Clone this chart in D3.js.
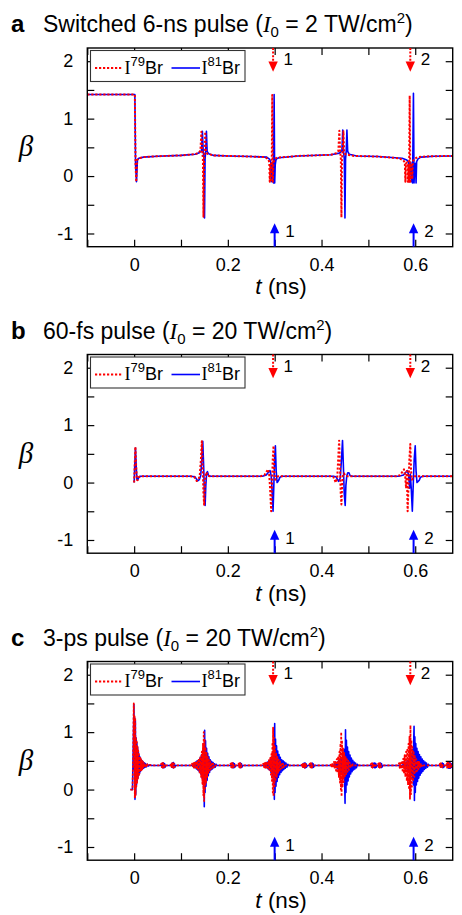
<!DOCTYPE html>
<html><head><meta charset="utf-8">
<script src="https://cdn.jsdelivr.net/npm/d3@7"></script>
<style>html,body{margin:0;background:#fff}svg{display:block}</style>
</head><body><svg id="fig" width="462" height="915"></svg>
<script>
// ---------- data ----------
const panelLetters = ["a", "b", "c"];
const pulseNames = ["Switched 6-ns pulse", "60-fs pulse", "3-ps pulse"];
const intensities = [2, 20, 20];
const isotopes = ["79", "81"];
const tTicks = [-0.1, 0, 0.1, 0.2, 0.3, 0.4, 0.5, 0.6];
const tLabels = [0, 0.2, 0.4, 0.6];
const betaTicks = [-1, -0.5, 0, 0.5, 1, 1.5, 2];
const betaLabels = [-1, 0, 1, 2];
const revival79 = [0.2966, 0.5895];
const revival81 = [0.2999, 0.5965];
const revivalNumbers = ["1", "2"];

// (a) switched 6-ns pulse, β(t) for I79Br and I81Br
const a79 = [[-0.1,1.42],[0,1.42],[0.0015,1.42],[0.003,0.2],[0.0045,-0.1],[0.0065,0.28],[0.01,0.31],[0.02,0.33],[0.05,0.345],[0.1,0.36],[0.13,0.38],[0.136,0.40],
[0.1415,0.44],[0.1435,0.77],[0.1452,0.43],[0.1468,0.30],[0.148,-0.71],[0.1492,0.30],[0.1505,0.44],[0.1518,0.77],[0.1533,0.43],[0.156,0.39],[0.17,0.36],[0.2,0.35],[0.25,0.34],
[0.28,0.33],[0.2865,0.29],[0.2885,0.24],[0.2895,-0.1],[0.2905,0.2],[0.2925,0.22],[0.2935,-0.1],[0.2948,1.41],[0.296,-0.1],[0.2972,0.2],[0.2985,0.26],[0.3,0.30],[0.305,0.32],
[0.35,0.35],[0.42,0.37],[0.432,0.40],[0.436,0.44],[0.438,0.79],[0.4397,0.43],[0.4412,0.30],[0.4425,-0.72],[0.4438,0.30],[0.4452,0.44],[0.4468,0.78],[0.4483,0.43],[0.451,0.38],[0.47,0.35],
[0.52,0.34],[0.565,0.31],[0.574,0.28],[0.5778,0.24],[0.579,-0.1],[0.5802,0.22],[0.583,0.24],[0.5842,-0.1],[0.5855,0.2],[0.5868,-0.1],[0.5882,1.40],[0.5895,-0.1],[0.5908,0.18],[0.5925,0.22],[0.5938,-0.05],[0.595,0.25],[0.598,0.30],[0.605,0.33],[0.63,0.345],[0.68,0.35]];
const a81 = [[-0.1,1.42],[0,1.42],[0.0015,1.42],[0.003,0.2],[0.005,-0.1],[0.007,0.28],[0.01,0.31],[0.02,0.33],[0.05,0.345],[0.1,0.36],[0.13,0.38],[0.138,0.40],
[0.1438,0.44],[0.1457,0.78],[0.1474,0.43],[0.149,0.30],[0.1502,-0.73],[0.1514,0.30],[0.1528,0.44],[0.1543,0.78],[0.1558,0.43],[0.159,0.39],[0.17,0.36],[0.2,0.35],[0.25,0.34],
[0.283,0.33],[0.2895,0.29],[0.2915,0.24],[0.2928,-0.1],[0.294,0.22],[0.2962,0.24],[0.2975,-0.12],[0.2988,1.42],[0.3,-0.12],[0.3012,0.2],[0.3025,0.27],[0.304,0.30],[0.309,0.32],
[0.35,0.35],[0.42,0.37],[0.438,0.40],[0.4435,0.44],[0.4453,0.80],[0.447,0.43],[0.4486,0.30],[0.45,-0.73],[0.4513,0.30],[0.4527,0.44],[0.4542,0.80],[0.4558,0.43],[0.459,0.38],[0.475,0.35],
[0.52,0.34],[0.572,0.31],[0.582,0.28],[0.5858,0.24],[0.587,-0.1],[0.5882,0.22],[0.5905,0.24],[0.5918,-0.1],[0.593,0.2],[0.5943,-0.12],[0.5962,1.44],[0.5975,-0.12],[0.5988,0.18],[0.6005,0.22],[0.6018,-0.12],[0.603,0.25],[0.606,0.30],[0.612,0.33],[0.64,0.345],[0.68,0.35]];

// (b) 60-fs pulse
const b79 = [[0,0],[0.0012,0.3],[0.0027,0.62],[0.0042,0.3],[0.0058,0.05],[0.0075,0.04],[0.0095,0.09],[0.013,0.11],[0.06,0.11],[0.12,0.11],[0.128,0.1],[0.1335,0.03],[0.137,0.05],[0.14,0.12],
[0.1425,0.4],[0.1445,0.72],[0.1465,0.25],[0.148,-0.2],[0.1495,-0.4],[0.151,-0.05],[0.1528,0.16],[0.1545,0.18],[0.157,0.12],[0.162,0.11],[0.27,0.11],[0.278,0.13],[0.2835,0.2],[0.286,0.23],
[0.2885,0.12],[0.2905,-0.15],[0.2925,-0.5],[0.294,-0.1],[0.2958,0.4],[0.2975,0.64],[0.2992,0.2],[0.3012,0.05],[0.3035,0.08],[0.307,0.11],[0.42,0.11],[0.425,0.1],[0.4305,0.0],[0.4335,0.08],
[0.4355,0.4],[0.4375,0.73],[0.4395,0.25],[0.441,-0.2],[0.4425,-0.38],[0.444,-0.05],[0.4458,0.14],[0.4478,0.16],[0.451,0.12],[0.456,0.11],[0.56,0.11],[0.568,0.13],[0.5735,0.2],[0.576,0.23],
[0.5785,0.12],[0.5805,-0.1],[0.582,0.2],[0.5838,-0.5],[0.5855,-0.1],[0.5875,0.4],[0.5895,0.67],[0.5912,0.2],[0.593,0.05],[0.5955,0.08],[0.599,0.11],[0.68,0.11]];
const b81 = [[0,0],[0.0012,0.28],[0.0028,0.6],[0.0044,0.28],[0.006,0.05],[0.0078,0.05],[0.0098,0.09],[0.013,0.11],[0.06,0.11],[0.12,0.11],[0.13,0.1],[0.1355,0.03],[0.139,0.05],[0.142,0.12],
[0.1445,0.4],[0.1465,0.72],[0.1485,0.25],[0.15,-0.2],[0.1515,-0.40],[0.153,-0.05],[0.1548,0.17],[0.1565,0.19],[0.159,0.12],[0.164,0.11],[0.274,0.11],[0.282,0.13],[0.2875,0.19],[0.29,0.21],
[0.2925,0.12],[0.2945,-0.15],[0.2965,-0.5],[0.298,-0.1],[0.2998,0.4],[0.3015,0.64],[0.3032,0.2],[0.3052,0.0],[0.307,0.02],[0.3086,0.04],[0.311,0.09],[0.315,0.11],[0.425,0.11],[0.431,0.1],
[0.4365,0.02],[0.44,0.08],[0.4425,0.4],[0.4448,0.73],[0.4468,0.25],[0.4485,-0.2],[0.4505,-0.4],[0.452,-0.05],[0.454,0.12],[0.456,0.17],[0.4586,0.17],[0.461,0.12],[0.466,0.11],[0.565,0.11],
[0.575,0.13],[0.581,0.19],[0.5835,0.21],[0.586,0.12],[0.588,-0.1],[0.5895,0.15],[0.5915,-0.1],[0.5938,-0.5],[0.5955,-0.1],[0.5978,0.4],[0.6,0.64],[0.6018,0.2],[0.6038,0.0],[0.6062,0.02],
[0.6086,0.04],[0.611,0.09],[0.616,0.11],[0.68,0.11]];

// (c) 3-ps pulse
const c79 = [[-0.008,0],[-0.0035,0],[-0.002,0.7],[-0.0008,1.5],[0.0002,0.4],[0.0008,1.3],[0.0015,-0.15],[0.0022,1.25],[0.003,-0.1],[0.0038,0.92],[0.0046,0.05],[0.0054,0.86],[0.0062,0.12],
[0.007,0.76],[0.0078,0.18],[0.0086,0.68],[0.0094,0.23],[0.0102,0.62],[0.011,0.27],[0.0118,0.58],[0.0126,0.3],[0.0134,0.55],[0.0142,0.32],[0.015,0.52],[0.0158,0.34],[0.0166,0.5],[0.0174,0.36],
[0.0182,0.49],[0.019,0.37],[0.02,0.47],[0.021,0.38],[0.022,0.46],[0.023,0.39],[0.024,0.45],[0.026,0.4],[0.028,0.44],[0.03,0.41],[0.033,0.43],[0.036,0.42],
[0.056,0.42],[0.058,0.45],[0.059,0.39],[0.06,0.46],[0.061,0.38],[0.062,0.46],[0.063,0.38],[0.064,0.45],[0.065,0.39],[0.067,0.42],
[0.077,0.42],[0.079,0.45],[0.08,0.39],[0.081,0.46],[0.082,0.38],[0.083,0.47],[0.084,0.38],[0.085,0.45],[0.086,0.39],[0.088,0.42],[0.11,0.42],
[0.122,0.42],[0.1235,0.45],[0.125,0.39],[0.1265,0.46],[0.128,0.38],[0.1295,0.47],[0.131,0.37],[0.1325,0.49],[0.134,0.35],[0.1355,0.51],[0.137,0.32],[0.1385,0.54],[0.14,0.28],[0.1415,0.58],
[0.143,0.22],[0.1445,0.66],[0.1458,0.1],[0.147,0.8],[0.1478,-0.1],[0.1486,1.0],[0.1494,-0.2],[0.1503,0.88],[0.1512,0.02],[0.1522,0.74],[0.1533,0.12],[0.1545,0.64],[0.1558,0.22],[0.157,0.57],
[0.1583,0.29],[0.1596,0.52],[0.161,0.33],[0.1625,0.49],[0.164,0.36],[0.1655,0.47],[0.167,0.38],[0.1685,0.45],[0.17,0.39],[0.172,0.44],[0.174,0.42],[0.19,0.42],
[0.204,0.42],[0.206,0.45],[0.207,0.39],[0.208,0.46],[0.209,0.38],[0.21,0.46],[0.211,0.38],[0.212,0.45],[0.213,0.39],[0.215,0.42],
[0.221,0.42],[0.223,0.45],[0.224,0.39],[0.225,0.46],[0.226,0.38],[0.227,0.45],[0.228,0.39],[0.23,0.42],[0.26,0.42],
[0.274,0.42],[0.2755,0.45],[0.277,0.39],[0.2785,0.46],[0.28,0.38],[0.2815,0.47],[0.283,0.37],[0.2845,0.49],[0.286,0.35],[0.2875,0.51],[0.289,0.32],[0.2905,0.55],[0.292,0.26],[0.2932,0.62],
[0.2942,0.15],[0.2952,0.82],[0.296,-0.05],[0.2966,1.08],[0.2975,-0.12],[0.2985,0.9],[0.2995,0.06],[0.3005,0.74],[0.3017,0.14],[0.303,0.64],[0.3043,0.22],[0.3056,0.57],[0.307,0.29],
[0.3085,0.52],[0.31,0.33],[0.3115,0.49],[0.313,0.36],[0.3145,0.47],[0.316,0.38],[0.3175,0.45],[0.319,0.39],[0.321,0.44],[0.323,0.42],[0.35,0.42],
[0.357,0.42],[0.359,0.45],[0.36,0.39],[0.361,0.46],[0.362,0.38],[0.363,0.46],[0.364,0.38],[0.365,0.45],[0.366,0.39],[0.368,0.42],
[0.373,0.42],[0.375,0.45],[0.376,0.39],[0.377,0.46],[0.378,0.38],[0.379,0.45],[0.38,0.39],[0.382,0.42],[0.405,0.42],
[0.419,0.42],[0.4205,0.45],[0.422,0.39],[0.4235,0.46],[0.425,0.38],[0.4265,0.48],[0.428,0.36],[0.4295,0.5],[0.431,0.33],[0.4325,0.53],[0.434,0.29],[0.4355,0.58],[0.437,0.22],[0.4383,0.66],
[0.4395,0.12],[0.4405,0.8],[0.4413,0],[0.442,1.0],[0.4428,-0.12],[0.4437,0.86],[0.4447,0.04],[0.4458,0.73],[0.447,0.13],[0.4483,0.64],[0.4496,0.21],[0.451,0.58],[0.4525,0.27],[0.454,0.53],
[0.4555,0.31],[0.457,0.5],[0.4585,0.34],[0.46,0.47],[0.4615,0.37],[0.463,0.45],[0.465,0.39],[0.467,0.44],[0.469,0.42],[0.49,0.42],
[0.504,0.42],[0.506,0.45],[0.507,0.39],[0.508,0.46],[0.509,0.38],[0.51,0.46],[0.511,0.38],[0.512,0.45],[0.513,0.39],[0.515,0.42],
[0.519,0.42],[0.521,0.45],[0.522,0.39],[0.523,0.46],[0.524,0.38],[0.525,0.45],[0.526,0.39],[0.528,0.42],[0.55,0.42],
[0.564,0.42],[0.5655,0.46],[0.567,0.38],[0.5685,0.48],[0.57,0.36],[0.5715,0.5],[0.573,0.33],[0.5745,0.54],[0.576,0.28],[0.5775,0.6],[0.579,0.22],[0.5805,0.66],[0.582,0.15],[0.5833,0.72],
[0.5846,0.08],[0.5858,0.8],[0.5868,0],[0.5878,0.92],[0.5888,-0.16],[0.5898,1.12],[0.5908,-0.08],[0.5918,0.86],[0.5929,0.05],[0.594,0.74],[0.5953,0.14],[0.5966,0.65],[0.598,0.22],
[0.5994,0.58],[0.6008,0.28],[0.6022,0.53],[0.6037,0.32],[0.6052,0.5],[0.6067,0.35],[0.6082,0.48],[0.6097,0.37],[0.6112,0.46],[0.613,0.39],[0.615,0.44],[0.617,0.42],[0.645,0.42],
[0.651,0.42],[0.653,0.45],[0.654,0.39],[0.655,0.46],[0.656,0.38],[0.657,0.45],[0.658,0.39],[0.66,0.42],[0.665,0.42],[0.667,0.45],[0.668,0.38],[0.669,0.47],[0.67,0.37],
[0.671,0.47],[0.672,0.37],[0.673,0.46],[0.674,0.38],[0.675,0.45],[0.677,0.39],[0.679,0.44],[0.681,0.42]];
const c81 = [[-0.008,0],[-0.0035,0],[-0.002,0.7],[-0.0005,1.48],[0.0004,0.35],[0.001,1.25],[0.0018,-0.17],[0.0026,1.2],[0.0034,-0.08],[0.0042,0.9],[0.005,0.08],[0.0058,0.82],[0.0066,0.15],
[0.0074,0.74],[0.0082,0.2],[0.009,0.66],[0.0098,0.25],[0.0106,0.6],[0.0114,0.28],[0.0122,0.57],[0.013,0.31],[0.0138,0.54],[0.0146,0.33],[0.0154,0.52],[0.0162,0.35],[0.017,0.5],[0.0178,0.36],
[0.0186,0.49],[0.0195,0.37],[0.0205,0.47],[0.0215,0.38],[0.0225,0.46],[0.0235,0.39],[0.0245,0.45],[0.0265,0.4],[0.0285,0.44],[0.0305,0.41],[0.0335,0.43],[0.037,0.42],
[0.057,0.42],[0.059,0.45],[0.06,0.39],[0.061,0.46],[0.062,0.38],[0.063,0.46],[0.064,0.38],[0.065,0.45],[0.066,0.39],[0.068,0.42],
[0.078,0.42],[0.08,0.45],[0.081,0.39],[0.082,0.46],[0.083,0.38],[0.084,0.47],[0.085,0.38],[0.086,0.45],[0.087,0.39],[0.089,0.42],[0.112,0.42],
[0.124,0.42],[0.1255,0.45],[0.127,0.39],[0.1285,0.46],[0.13,0.38],[0.1315,0.48],[0.133,0.36],[0.1345,0.5],[0.136,0.34],[0.1375,0.52],[0.139,0.31],[0.1405,0.55],[0.142,0.27],[0.1435,0.6],
[0.145,0.2],[0.1465,0.68],[0.1478,0.08],[0.149,0.8],[0.1497,-0.3],[0.1505,1.03],[0.1514,-0.05],[0.1524,0.85],[0.1534,0.06],[0.1546,0.72],[0.1558,0.16],[0.157,0.63],[0.1583,0.24],[0.1596,0.57],
[0.161,0.3],[0.1625,0.52],[0.164,0.34],[0.1655,0.49],[0.167,0.36],[0.1685,0.47],[0.17,0.38],[0.1715,0.45],[0.173,0.39],[0.175,0.44],[0.177,0.42],[0.192,0.42],
[0.206,0.42],[0.208,0.45],[0.209,0.39],[0.21,0.46],[0.211,0.38],[0.212,0.46],[0.213,0.38],[0.214,0.45],[0.215,0.39],[0.217,0.42],
[0.223,0.42],[0.225,0.45],[0.226,0.39],[0.227,0.46],[0.228,0.38],[0.229,0.45],[0.23,0.39],[0.232,0.42],[0.262,0.42],
[0.277,0.42],[0.2785,0.45],[0.28,0.39],[0.2815,0.46],[0.283,0.38],[0.2845,0.48],[0.286,0.36],[0.2875,0.5],[0.289,0.34],[0.2905,0.52],[0.292,0.3],[0.2935,0.56],[0.295,0.24],[0.2963,0.64],
[0.2975,0.12],[0.2987,0.82],[0.2993,-0.17],[0.3,1.15],[0.3008,-0.05],[0.3018,0.88],[0.3028,0.06],[0.304,0.76],[0.3052,0.14],[0.3065,0.67],[0.3078,0.21],[0.3092,0.61],[0.3106,0.26],
[0.312,0.56],[0.3135,0.3],[0.315,0.52],[0.3165,0.33],[0.318,0.5],[0.3195,0.35],[0.321,0.48],[0.3225,0.37],[0.324,0.46],[0.326,0.39],[0.328,0.44],[0.33,0.42],[0.355,0.42],
[0.359,0.42],[0.361,0.45],[0.362,0.39],[0.363,0.46],[0.364,0.38],[0.365,0.46],[0.366,0.38],[0.367,0.45],[0.368,0.39],[0.37,0.42],
[0.376,0.42],[0.378,0.45],[0.379,0.39],[0.38,0.46],[0.381,0.38],[0.382,0.45],[0.383,0.39],[0.385,0.42],[0.41,0.42],
[0.426,0.42],[0.4275,0.45],[0.429,0.39],[0.4305,0.46],[0.432,0.38],[0.4335,0.48],[0.435,0.36],[0.4365,0.5],[0.438,0.34],[0.4395,0.52],[0.441,0.31],[0.4425,0.55],[0.444,0.27],[0.4455,0.6],
[0.447,0.2],[0.4483,0.7],[0.4495,0.06],[0.4502,-0.24],[0.4512,1.04],[0.4521,-0.05],[0.4531,0.86],[0.4542,0.08],[0.4554,0.74],[0.4567,0.15],[0.458,0.66],[0.4594,0.22],[0.4608,0.6],
[0.4622,0.27],[0.4637,0.55],[0.4652,0.31],[0.4667,0.51],[0.4682,0.34],[0.4697,0.48],[0.4712,0.36],[0.4727,0.46],[0.4745,0.38],[0.4765,0.44],[0.4785,0.42],[0.495,0.42],
[0.508,0.42],[0.51,0.45],[0.511,0.39],[0.512,0.46],[0.513,0.38],[0.514,0.46],[0.515,0.38],[0.516,0.45],[0.517,0.39],[0.519,0.42],
[0.522,0.42],[0.524,0.45],[0.525,0.39],[0.526,0.46],[0.527,0.38],[0.528,0.45],[0.529,0.39],[0.531,0.42],[0.555,0.42],
[0.573,0.42],[0.5745,0.45],[0.576,0.39],[0.5775,0.46],[0.579,0.38],[0.5805,0.48],[0.582,0.36],[0.5835,0.5],[0.585,0.34],[0.5865,0.53],[0.588,0.3],[0.5895,0.57],[0.591,0.25],[0.5923,0.63],
[0.5936,0.18],[0.5948,0.7],[0.596,0.08],[0.5968,0.85],[0.5975,1.1],[0.5983,-0.19],[0.5992,0.92],[0.6002,-0.05],[0.6012,0.8],[0.6024,0.08],[0.6036,0.72],[0.6049,0.14],[0.6062,0.66],
[0.6076,0.2],[0.609,0.61],[0.6105,0.25],[0.612,0.57],[0.6135,0.29],[0.615,0.53],[0.6165,0.32],[0.618,0.5],[0.6195,0.35],[0.621,0.48],[0.6225,0.37],[0.624,0.46],[0.626,0.39],[0.628,0.44],
[0.63,0.42],[0.648,0.42],[0.654,0.42],[0.656,0.45],[0.657,0.39],[0.658,0.46],[0.659,0.38],[0.66,0.45],[0.661,0.39],[0.663,0.42],[0.667,0.42],[0.669,0.45],[0.67,0.38],[0.671,0.47],
[0.672,0.37],[0.673,0.47],[0.674,0.37],[0.675,0.46],[0.676,0.38],[0.677,0.45],[0.679,0.39],[0.681,0.44]];

const series79 = [a79, b79, c79];
const series81 = [a81, b81, c81];

// ---------- layout ----------
const svg = d3.select("#fig");
const SANS = "'Liberation Sans', Arial, Helvetica, sans-serif";
const SERIF = "'Liberation Serif', 'Times New Roman', serif";
const RED = "#ff0000", BLUE = "#0000ff";
const left = 87.3, right = 452.7, plotH = 198.7;
const tops = [48, 354.5, 661.5];

const x = d3.scaleLinear().domain([-0.1, 0.68]).range([left, right]);
const isLabel = (list, v) => list.some(u => Math.abs(u - v) < 1e-9);

panelLetters.forEach((letter, i) => {
  const top = tops[i], bottom = top + plotH;
  const y = d3.scaleLinear().domain([-1.23, 2.23]).range([bottom, top]);
  const g = svg.append("g");

  // panel heading
  g.append("text").attr("x", 11).attr("y", top - 16)
    .attr("font-family", SANS).attr("font-weight", "bold").attr("font-size", 24).text(letter);
  const title = g.append("text").attr("x", 43).attr("y", top - 16)
    .attr("font-family", SANS).attr("font-size", 23);
  title.append("tspan").text(pulseNames[i] + " (");
  title.append("tspan").attr("font-family", SERIF).attr("font-style", "italic").text("I");
  title.append("tspan").attr("font-size", 15).attr("dy", 5).text("0");
  title.append("tspan").attr("dy", -5).text(" = " + intensities[i] + " TW/cm");
  title.append("tspan").attr("font-size", 15).attr("dy", -9).text("2");
  title.append("tspan").attr("dy", 9).text(")");

  // traces
  const clipId = "plotclip" + i;
  svg.append("clipPath").attr("id", clipId).append("rect")
    .attr("x", left).attr("y", top).attr("width", right - left).attr("height", plotH);
  const line = d3.line().x(d => x(d[0])).y(d => y(d[1]));
  const plot = g.append("g").attr("clip-path", `url(#${clipId})`);
  plot.append("path").datum(series81[i]).attr("d", line)
    .attr("fill", "none").attr("stroke", BLUE).attr("stroke-width", 1.6).attr("stroke-linejoin", "round");
  plot.append("path").datum(series79[i]).attr("d", line)
    .attr("fill", "none").attr("stroke", RED).attr("stroke-width", i === 2 ? 1.8 : 2)
    .attr("stroke-dasharray", "2.2,1.8").attr("stroke-linejoin", "round");

  // axes with inward ticks on all four sides
  const styleAxis = sel => {
    sel.select(".domain").remove();
    sel.selectAll("line").attr("stroke", "#000").attr("stroke-width", 1.2);
    sel.selectAll("text").attr("font-family", SANS).attr("font-size", 18).attr("fill", "#000");
  };
  g.append("g").attr("transform", `translate(0,${bottom})`)
    .call(d3.axisBottom(x).tickValues(tTicks).tickSize(-7).tickSizeOuter(0).tickPadding(11.5)
      .tickFormat(d => isLabel(tLabels, d) ? String(d) : ""))
    .call(styleAxis);
  g.append("g").attr("transform", `translate(0,${top})`)
    .call(d3.axisTop(x).tickValues(tTicks).tickSize(-7).tickSizeOuter(0).tickFormat(""))
    .call(styleAxis);
  g.append("g").attr("transform", `translate(${left},0)`)
    .call(d3.axisLeft(y).tickValues(betaTicks).tickSize(-7).tickSizeOuter(0).tickPadding(14)
      .tickFormat(d => isLabel(betaLabels, d) ? String(d) : ""))
    .call(styleAxis);
  g.append("g").attr("transform", `translate(${right},0)`)
    .call(d3.axisRight(y).tickValues(betaTicks).tickSize(-7).tickSizeOuter(0).tickFormat(""))
    .call(styleAxis);
  g.append("rect").attr("x", left).attr("y", top).attr("width", right - left).attr("height", plotH)
    .attr("fill", "none").attr("stroke", "#000").attr("stroke-width", 1.4);

  // axis titles
  g.append("text").attr("x", 26).attr("y", (top + bottom) / 2 + 9).attr("text-anchor", "middle")
    .attr("font-family", SERIF).attr("font-style", "italic").attr("font-size", 29).text("β");
  const xt = g.append("text").attr("x", (left + right) / 2 + 11).attr("y", bottom + 47.5)
    .attr("text-anchor", "middle").attr("font-family", SANS).attr("font-size", 22.5);
  xt.append("tspan").attr("font-style", "italic").text("t");
  xt.append("tspan").text(" (ns)");

  // legend
  const lg = g.append("g");
  lg.append("rect").attr("x", 90.5).attr("y", top + 2.5).attr("width", 154.5).attr("height", 31)
    .attr("fill", "#fff").attr("stroke", "#333").attr("stroke-width", 1.1);
  const entries = [{iso: isotopes[0], color: RED, dash: "2.2,1.8", w: 2, x0: 95, x1: 123},
                   {iso: isotopes[1], color: BLUE, dash: null, w: 1.6, x0: 171.5, x1: 200}];
  entries.forEach(e => {
    lg.append("line").attr("x1", e.x0).attr("x2", e.x1).attr("y1", top + 20).attr("y2", top + 20)
      .attr("stroke", e.color).attr("stroke-width", e.w).attr("stroke-dasharray", e.dash);
    const t = lg.append("text").attr("x", e.x1 + 1.5).attr("y", top + 25.5)
      .attr("font-family", SANS).attr("font-size", 18);
    t.append("tspan").attr("font-family", SERIF).text("I");
    t.append("tspan").attr("font-size", 13).attr("dy", -8).text(e.iso);
    t.append("tspan").attr("dy", 8).text("Br");
  });

  // revival markers
  revival79.forEach((tv, k) => {
    const xv = x(tv);
    g.append("line").attr("x1", xv).attr("x2", xv).attr("y1", top).attr("y2", top + 15)
      .attr("stroke", RED).attr("stroke-width", 2).attr("stroke-dasharray", "2,1.6");
    g.append("path").attr("d", `M${xv - 4.7},${top + 13.5}L${xv + 4.7},${top + 13.5}L${xv},${top + 23.7}Z`)
      .attr("fill", RED);
    g.append("text").attr("x", xv + 10.5).attr("y", top + 17).attr("font-family", SANS)
      .attr("font-size", 17).text(revivalNumbers[k]);
  });
  revival81.forEach((tv, k) => {
    const xv = x(tv);
    g.append("line").attr("x1", xv).attr("x2", xv).attr("y1", bottom).attr("y2", bottom - 15)
      .attr("stroke", BLUE).attr("stroke-width", 2);
    g.append("path").attr("d", `M${xv - 4.7},${bottom - 13.5}L${xv + 4.7},${bottom - 13.5}L${xv},${bottom - 23.5}Z`)
      .attr("fill", BLUE);
    g.append("text").attr("x", xv + 10.7).attr("y", bottom - 9.5).attr("font-family", SANS)
      .attr("font-size", 17).text(revivalNumbers[k]);
  });
});
</script>
</body></html>
